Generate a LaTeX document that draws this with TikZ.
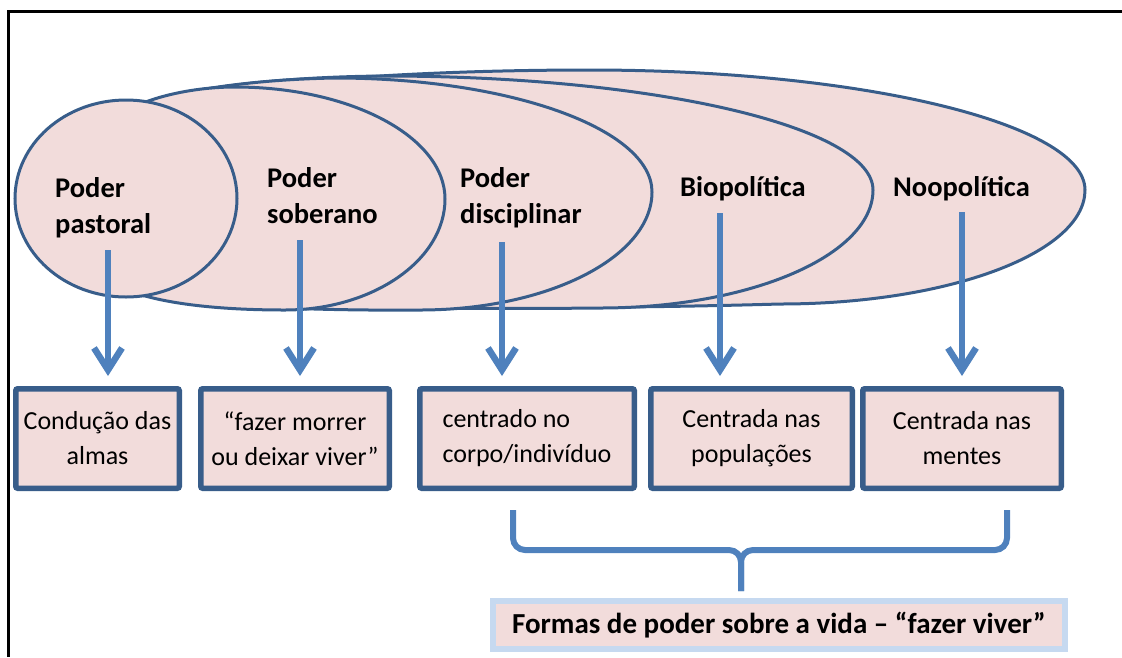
\documentclass[tikz,border=0pt]{standalone}
\usepackage{fontspec}
\setmainfont{Carlito}
\usetikzlibrary{arrows.meta}
\definecolor{edge}{HTML}{385D8A}
\definecolor{pinkfill}{HTML}{F2DCDB}
\definecolor{arrowblue}{HTML}{4F81BD}
\definecolor{lightedge}{HTML}{C6D9F0}
\begin{document}
\begin{tikzpicture}[x=1pt,y=-1pt,
  blob/.style={draw=edge, fill=pinkfill, line width=3pt},
  lbl/.style={font=\bfseries\fontsize{28.5}{36}\selectfont, align=left, inner sep=0pt, anchor=north west},
  boxst/.style={draw=edge, fill=pinkfill, line width=5.5pt, rounded corners=2pt, minimum height=99.5pt, font=\fontsize{26}{35}\selectfont, align=center, inner sep=0pt},
  arr/.style={draw=arrowblue, line width=6.5pt, -{Straight Barb[length=22pt,width=28pt]}, shorten >=10pt},
  bracestyle/.style={draw=arrowblue, line width=6pt, rounded corners=12pt},
]
\useasboundingbox (0,0) rectangle (1122,657);
% frame
\draw[line width=3pt] (1122,11) -- (8.5,11) -- (8.5,657);
% nested shapes
\path[blob] (115,120) .. controls (130,96) and (330,70) .. (590,70)
  .. controls (863,70) and (1085,124) .. (1085,190)
  .. controls (1085,253) and (948,304) .. (780,304)
  .. controls (500,312) and (180,306) .. (118,288) -- cycle;
\path[blob] (115,120) .. controls (130,98) and (240,77) .. (385,76)
  .. controls (654,76) and (873,127) .. (873,190)
  .. controls (873,255) and (751,308) .. (600,308)
  .. controls (400,310) and (170,306) .. (118,288) -- cycle;
\path[blob] (115,120) .. controls (130,100) and (220,80) .. (335,78)
  .. controls (510,78) and (652,129) .. (652,192)
  .. controls (652,257) and (548,310) .. (420,310)
  .. controls (300,311) and (160,305) .. (118,287) -- cycle;
\path[blob] (115,120) .. controls (128,104) and (180,87) .. (235,87)
  .. controls (351,87) and (445,137) .. (445,199)
  .. controls (445,260) and (373,310) .. (285,310)
  .. controls (210,310) and (150,302) .. (118,286) -- cycle;
\path[blob] (126,198.5) ellipse [x radius=111, y radius=98.5];
% labels
\node[lbl] (pastoral) at (55,177) {Poder\\pastoral};
\node[lbl] (soberano) at (267,167) {Poder\\soberano};
\node[lbl] (disciplinar) at (460,167) {Poder\\disciplinar};
\node[lbl] (bio) at (680,176) {Biopolítica};
\node[lbl] (noo) at (893,176) {Noopolítica};
% boxes
\node[boxst, minimum width=163.5pt] (b1) at (97.5,438.5) {Condução das\\almas};
\node[boxst, minimum width=188.5pt] (b2) at (295,438.5) {“fazer morrer\\ou deixar viver”};
\node[boxst, minimum width=214.5pt, align=left] (b3) at (527,438.5) {centrado no\\corpo/indivíduo};
\node[boxst, minimum width=201.5pt] (b4) at (751.5,438.5) {Centrada nas\\populações};
\node[boxst, minimum width=198.5pt] (b5) at (962,438.5) {Centrada nas\\mentes};
% arrows
\coordinate (s1) at (108,250);
\coordinate (s2) at (300,240);
\coordinate (s3) at (502,242);
\coordinate (s4) at (720,213);
\coordinate (s5) at (962,212);
\draw[arr] (s1) -- (s1 |- b1.north);
\draw[arr] (s2) -- (s2 |- b2.north);
\draw[arr] (s3) -- (s3 |- b3.north);
\draw[arr] (s4) -- (s4 |- b4.north);
\draw[arr] (s5) -- (s5 |- b5.north);
% bottom box
\node[draw=lightedge, fill=pinkfill, line width=6pt, minimum width=572pt, minimum height=48pt, font=\bfseries\fontsize{29}{34}\selectfont, inner sep=0pt] (forms) at (779,625) {Formas de poder sobre a vida – “fazer viver”};
% brace
\coordinate (brL) at (513,510);
\coordinate (brR) at (1007,510);
\coordinate (brM) at (741,550);
\coordinate (brT) at (741,591);
\draw[bracestyle] (brL) |- (brM) -- (brT);
\draw[bracestyle] (brR) |- (brM) -- (brT);
\end{tikzpicture}
\end{document}
